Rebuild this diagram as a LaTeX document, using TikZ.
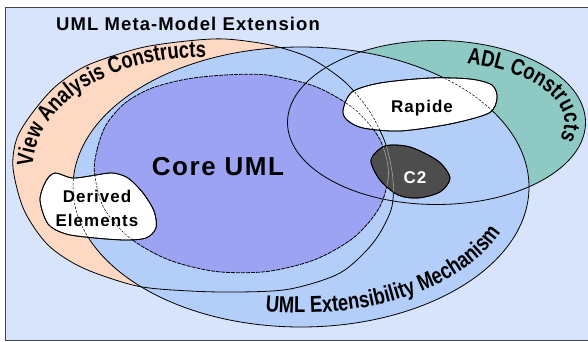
\documentclass[tikz,border=0pt]{standalone}
\usepackage{fontspec}
\setmainfont{Liberation Sans}
\newfontfamily\spacedfont{Liberation Sans}[LetterSpace=6]
\newfontfamily\curvedfont{Liberation Sans}[FakeStretch=0.8]
\usetikzlibrary{decorations.text}

\definecolor{bgblue}{RGB}{215,228,252}
\definecolor{peach}{RGB}{253,217,196}
\definecolor{extblue}{RGB}{180,206,250}
\definecolor{corepurple}{RGB}{155,163,242}
\definecolor{adlteal}{RGB}{142,201,196}
\definecolor{ctwo}{RGB}{77,77,77}
\definecolor{framegray}{RGB}{70,70,70}

\newcommand\curvefont{\curvedfont\bfseries\fontsize{23}{24}\selectfont}

\tikzset{
  % region outlines
  viewshape/.style={insert path={plot[smooth cycle] coordinates {
      (13,168) (17,138) (33,112) (56,86) (88,65) (140,48) (187,41) (225,39)
      (270,45) (310,58) (345,82) (370,112) (386,145) (393,180) (391,210)
      (373,243) (340,273) (290,289) (240,292) (190,291) (137,286) (83,268)
      (48,245) (24,210)}}},
  adlshape/.style={insert path={(436.5,122.5) ellipse [x radius=149, y radius=82]}},
  extshape/.style={insert path={(301,187) ellipse [x radius=228, y radius=140]}},
  coreshape/.style={insert path={plot[smooth cycle] coordinates {
      (94.5,173) (97,150) (106,125) (125,103) (152,88) (187,79) (225,75)
      (267,75) (315,86.4) (354,108.7) (379.6,138.8) (388.5,173)
      (379.6,207.2) (354.1,237.3) (315,259.6) (267,271.5) (216,271.5)
      (168,259.6) (128.9,237.3) (103.4,207.2)}}},
  % free-form blobs
  rapideshape/.style={insert path={plot[smooth cycle] coordinates {
      (343,110) (352,92) (380,83) (430,78) (470,79) (492,85) (497,98)
      (489,113) (450,124) (400,131) (363,128) (347,120)}}},
  ctwoshape/.style={insert path={plot[smooth cycle] coordinates {
      (371,160) (385,146) (410,147) (438,161) (450,178) (440,192)
      (418,198) (398,195) (380,180)}}},
  derivedshape/.style={insert path={plot[smooth cycle] coordinates {
      (40,200) (46,181) (55,173) (72,178) (90,176) (112,173) (128,178)
      (143,193) (154,211) (156,228) (146,238) (125,240) (95,238)
      (66,234) (48,224)}}},
  outline/.style={draw=black, line width=0.8pt},
  coreline/.style={draw=black, line width=0.8pt, dash pattern=on 4pt off 1pt},
  hidden/.style={draw=black, line width=0.5pt, dash pattern=on 2.5pt off 1.5pt},
  hiddenpale/.style={draw=gray!70, line width=0.6pt},
  blob/.style={draw=black, line width=0.8pt},
  boldlabel/.style={font=\spacedfont\bfseries\fontsize{17}{20}\selectfont, inner sep=0pt},
  curvelabel/.style={decorate, decoration={text along path, text align=center,
      text={|\curvefont|#1}}},
}

\begin{document}
\begin{tikzpicture}[x=1pt, y=-1pt]
\useasboundingbox (0,0) rectangle (588,342);
\clip (0,0) rectangle (588,342);

% frame of the meta-model
\path[fill=bgblue, draw=framegray, line width=1.5pt] (5.5,7.5) rectangle (600,340.5);
\node[boldlabel, font=\spacedfont\bfseries\fontsize{18.5}{20}\selectfont, anchor=base]
  (title) at (188,31) {UML Meta-Model Extension};

% region fills
\fill[peach, viewshape];
\fill[adlteal, adlshape];
\fill[extblue, extshape];
\fill[corepurple, coreshape];

% region outlines
\path[outline, viewshape];
\path[outline, adlshape];
\path[outline, extshape];
\path[coreline, coreshape];

% labels bent along the regions
\path[curvelabel={View Analysis Constructs}]
  (204,168) ++(180:171 and 111) arc [start angle=180, end angle=271, x radius=171, y radius=111];
\path[curvelabel={ADL Constructs}]
  (436.5,122.5) ++(283:128 and 61) arc [start angle=283, end angle=377, x radius=128, y radius=61];
\path[curvelabel={UML Extensibility Mechanism}]
  (301,187) ++(101:214 and 126) arc [start angle=101, end angle=19, x radius=214, y radius=126];

% blobs
\path[blob, fill=white, derivedshape];
\path[blob, fill=white, rapideshape];
\path[blob, fill=ctwo, ctwoshape];

% outlines seen through the blobs
\begin{scope}
  \clip[derivedshape];
  \path[hidden, extshape];
  \path[hidden, coreshape];
\end{scope}
\begin{scope}
  \clip[rapideshape];
  \path[hidden, viewshape];
  \path[hidden, extshape];
  \path[hidden, coreshape];
\end{scope}
\begin{scope}
  \clip[ctwoshape];
  \path[hiddenpale, viewshape];
  \path[hiddenpale, coreshape];
\end{scope}
\path[blob, derivedshape];
\path[blob, rapideshape];
\path[blob, ctwoshape];

% texts
\node[boldlabel, font=\spacedfont\bfseries\fontsize{26}{28}\selectfont, anchor=base]
  (core) at (218,175) {Core UML};
\node[boldlabel, anchor=base] (derived1) at (97,202) {Derived};
\node[boldlabel, anchor=base] (derived2) at (97,226) {Elements};
\node[boldlabel, anchor=base] (rapide) at (422,112) {Rapide};
\node[boldlabel, anchor=base, text=white] (c2) at (415,183) {C2};
\end{tikzpicture}
\end{document}
